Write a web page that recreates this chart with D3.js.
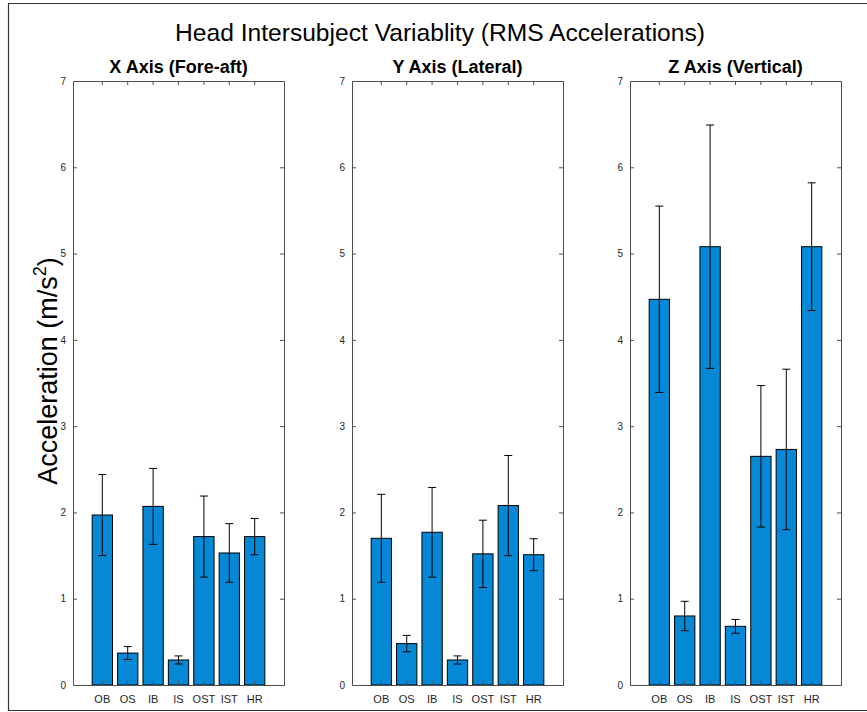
<!DOCTYPE html>
<html>
<head>
<meta charset="utf-8">
<script src="https://cdn.jsdelivr.net/npm/d3@7/dist/d3.min.js"></script>
<style>
  html, body { margin: 0; padding: 0; background: #fff; }
  svg { display: block; font-family: "Liberation Sans", Arial, Helvetica, sans-serif; }
</style>
</head>
<body>
<svg id="chart" width="867" height="712"></svg>
<script>
// ---- data ----
const categories = ["OB", "OS", "IB", "IS", "OST", "IST", "HR"];
const panelTitles = ["X Axis (Fore-aft)", "Y Axis (Lateral)", "Z Axis (Vertical)"];
const xMeans = [1.97, 0.37, 2.07, 0.29, 1.72, 1.53, 1.72];
const xErrors = [0.47, 0.075, 0.44, 0.047, 0.47, 0.34, 0.21];
const yMeans = [1.70, 0.48, 1.77, 0.29, 1.52, 2.08, 1.51];
const yErrors = [0.51, 0.095, 0.52, 0.047, 0.39, 0.58, 0.185];
const zMeans = [4.47, 0.80, 5.08, 0.68, 2.65, 2.73, 5.08];
const zErrors = [1.08, 0.17, 1.41, 0.08, 0.82, 0.93, 0.74];
const yTicks = [0, 1, 2, 3, 4, 5, 6, 7];
const mainTitle = "Head Intersubject Variablity (RMS Accelerations)";

// ---- layout ----
const svg = d3.select("#chart");
const panelLefts = [73, 352, 630];
const panelWidth = 211;
const plotTop = 81, plotBottom = 685;
const barColor = "#0588d5";
const axisColor = "#4d4d4d";

// figure frame
svg.append("path")
  .attr("d", `M 870 3.5 L 8.5 3.5 L 8.5 710.5 L 870 710.5`)
  .attr("fill", "none").attr("stroke", "#333").attr("stroke-width", 1.2);

svg.append("text")
  .attr("x", 440).attr("y", 41)
  .attr("text-anchor", "middle")
  .attr("font-size", 24.6)
  .attr("fill", "#000")
  .text(mainTitle);

const yScale = d3.scaleLinear().domain([0, 7]).range([plotBottom, plotTop]);

const series = [
  { means: xMeans, errs: xErrors },
  { means: yMeans, errs: yErrors },
  { means: zMeans, errs: zErrors }
];

series.forEach((s, p) => {
  const left = panelLefts[p];
  const xScale = d3.scaleBand()
    .domain(categories)
    .range([left, left + panelWidth])
    .paddingInner(0.2)
    .paddingOuter(0.755);

  const g = svg.append("g");
  const data = categories.map((c, i) => ({ c, v: s.means[i], e: s.errs[i] }));

  // bars
  g.selectAll("rect.bar").data(data).join("rect")
    .attr("class", "bar")
    .attr("x", d => xScale(d.c))
    .attr("width", xScale.bandwidth())
    .attr("y", d => yScale(d.v))
    .attr("height", d => yScale(0) - yScale(d.v))
    .attr("fill", barColor)
    .attr("stroke", "#000")
    .attr("stroke-width", 1);

  // error bars
  const cx = d => xScale(d.c) + xScale.bandwidth() / 2;
  const cap = 4;
  g.selectAll("line.err").data(data).join("line")
    .attr("class", "err")
    .attr("x1", cx).attr("x2", cx)
    .attr("y1", d => yScale(d.v + d.e)).attr("y2", d => yScale(d.v - d.e))
    .attr("stroke", "#000").attr("stroke-width", 1);
  g.selectAll("line.capT").data(data).join("line")
    .attr("class", "capT")
    .attr("x1", d => cx(d) - cap).attr("x2", d => cx(d) + cap)
    .attr("y1", d => yScale(d.v + d.e)).attr("y2", d => yScale(d.v + d.e))
    .attr("stroke", "#000").attr("stroke-width", 1);
  g.selectAll("line.capB").data(data).join("line")
    .attr("class", "capB")
    .attr("x1", d => cx(d) - cap).attr("x2", d => cx(d) + cap)
    .attr("y1", d => yScale(d.v - d.e)).attr("y2", d => yScale(d.v - d.e))
    .attr("stroke", "#000").attr("stroke-width", 1);

  // axes (inward ticks, box)
  const tickLen = 4;
  const yAxisL = d3.axisLeft(yScale).tickValues(yTicks).tickFormat(d3.format("d"))
    .tickSizeInner(-tickLen).tickSizeOuter(0).tickPadding(7);
  const yAxisR = d3.axisRight(yScale).tickValues(yTicks).tickFormat("")
    .tickSizeInner(-tickLen).tickSizeOuter(0);
  const xAxisB = d3.axisBottom(xScale).tickSizeInner(-tickLen).tickSizeOuter(0).tickPadding(10);
  const xAxisT = d3.axisTop(xScale).tickFormat("").tickSizeInner(-tickLen).tickSizeOuter(0);

  const gl = g.append("g").attr("transform", `translate(${left},0)`).call(yAxisL);
  const gr = g.append("g").attr("transform", `translate(${left + panelWidth},0)`).call(yAxisR);
  const gb = g.append("g").attr("transform", `translate(0,${plotBottom})`).call(xAxisB);
  const gt = g.append("g").attr("transform", `translate(0,${plotTop})`).call(xAxisT);

  [gl, gr, gb, gt].forEach(a => {
    a.select(".domain").attr("stroke", axisColor).attr("stroke-width", 1);
    a.selectAll(".tick line").attr("stroke", axisColor).attr("stroke-width", 1);
    a.selectAll(".tick text").attr("fill", "#262626").attr("font-family", "Liberation Sans, Arial, sans-serif");
  });
  gl.selectAll(".tick text").attr("font-size", 10);
  gb.selectAll(".tick text").attr("font-size", 11);
  gl.selectAll(".tick line").filter(d => d === 0 || d === 7).remove();
  gr.selectAll(".tick line").filter(d => d === 0 || d === 7).remove();

  // panel title
  svg.append("text")
    .attr("x", left + panelWidth / 2).attr("y", 73)
    .attr("text-anchor", "middle")
    .attr("font-size", 18).attr("font-weight", "bold")
    .attr("fill", "#000")
    .text(panelTitles[p]);
});

// y-axis label
const yl = svg.append("text")
  .attr("transform", `translate(57,371) rotate(-90)`)
  .attr("text-anchor", "middle")
  .attr("font-size", 27)
  .attr("fill", "#000");
yl.append("tspan").text("Acceleration (m/s");
yl.append("tspan").attr("font-size", 18).attr("dy", -11).text("2");
yl.append("tspan").attr("dy", 11).text(")");
</script>
</body>
</html>
